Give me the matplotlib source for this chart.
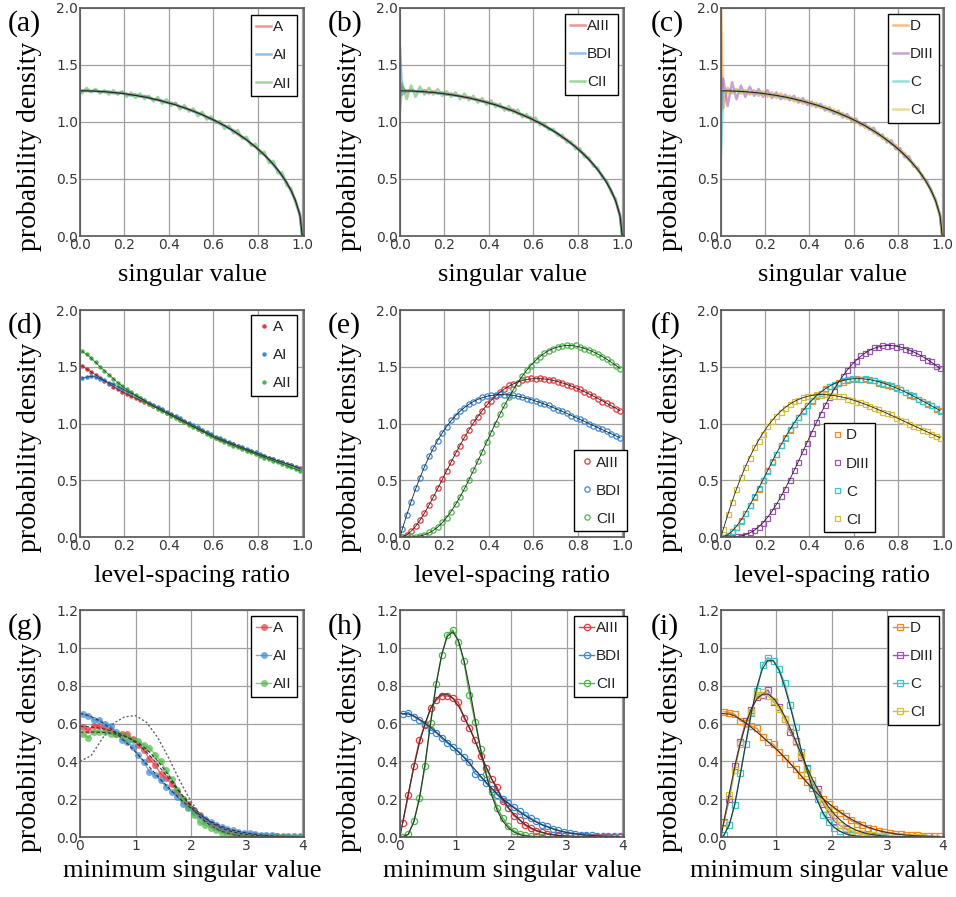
import numpy as np
import matplotlib
matplotlib.use('Agg')
import matplotlib.pyplot as plt

plt.rcParams['font.family'] = ['DejaVu Sans']
SERIF = 'Liberation Serif'
SANS_LEG = 'Liberation Sans'

# ---------------- colours ----------------
RED = '#e8383f'; BLUE = '#3b8ad8'; GREEN = '#4db84a'
ORANGE = '#f5891f'; PURPLE = '#9b56b3'; CYAN = '#3dc4c8'; YELLOW = '#d6be3e'
DARK = '#222222'

# ---------------- row 1 : singular value density ----------------
x_sv = np.concatenate([[0.0], np.linspace(0.01, 0.99, 50), [1.0]])
SV_th = [1.273, 1.273, 1.273, 1.272, 1.270, 1.268, 1.266, 1.262, 1.259, 1.255, 1.250, 1.245, 1.239,
         1.233, 1.226, 1.219, 1.211, 1.202, 1.193, 1.183, 1.172, 1.161, 1.150, 1.137, 1.124, 1.110,
         1.095, 1.080, 1.063, 1.046, 1.028, 1.009, 0.989, 0.968, 0.945, 0.922, 0.897, 0.870, 0.842,
         0.812, 0.781, 0.747, 0.710, 0.671, 0.628, 0.581, 0.528, 0.468, 0.398, 0.310, 0.180, 0.0]
sv_A = [1.27, 1.28, 1.27, 1.27, 1.28, 1.26, 1.27, 1.26, 1.26, 1.25, 1.26, 1.24, 1.24, 1.24, 1.22, 1.23,
        1.21, 1.20, 1.20, 1.18, 1.17, 1.17, 1.15, 1.14, 1.12, 1.11, 1.10, 1.08, 1.07, 1.04, 1.03, 1.01,
        0.99, 0.97, 0.95, 0.92, 0.89, 0.87, 0.84, 0.81, 0.78, 0.75, 0.71, 0.67, 0.63, 0.58, 0.53, 0.47,
        0.40, 0.31, 0.18, 0.0]
sv_AI = [1.27, 1.27, 1.28, 1.27, 1.27, 1.27, 1.26, 1.27, 1.25, 1.26, 1.25, 1.25, 1.23, 1.24, 1.23, 1.22,
         1.22, 1.20, 1.19, 1.19, 1.17, 1.16, 1.16, 1.13, 1.13, 1.11, 1.09, 1.08, 1.06, 1.05, 1.02, 1.01,
         0.98, 0.97, 0.94, 0.93, 0.90, 0.87, 0.85, 0.81, 0.78, 0.74, 0.71, 0.67, 0.62, 0.58, 0.52, 0.47,
         0.39, 0.31, 0.17, 0.0]
sv_AII = [1.27, 1.25, 1.30, 1.26, 1.29, 1.25, 1.28, 1.24, 1.28, 1.24, 1.27, 1.22, 1.26, 1.21, 1.25, 1.20,
          1.23, 1.18, 1.22, 1.16, 1.20, 1.14, 1.17, 1.11, 1.15, 1.09, 1.12, 1.05, 1.09, 1.02, 1.05, 0.99,
          1.01, 0.94, 0.97, 0.90, 0.93, 0.85, 0.87, 0.79, 0.81, 0.72, 0.74, 0.64, 0.66, 0.55, 0.56, 0.44,
          0.42, 0.29, 0.20, 0.0]
sv_AIII = [1.22, 1.31, 1.26, 1.28, 1.27, 1.26, 1.28, 1.25, 1.27, 1.25, 1.26, 1.24, 1.25, 1.23, 1.23, 1.21,
           1.22, 1.20, 1.20, 1.18, 1.18, 1.16, 1.16, 1.13, 1.13, 1.10, 1.11, 1.07, 1.07, 1.04, 1.04, 1.00,
           1.00, 0.96, 0.95, 0.92, 0.90, 0.86, 0.85, 0.81, 0.79, 0.74, 0.72, 0.67, 0.63, 0.58, 0.53, 0.47,
           0.40, 0.31, 0.18, 0.0]
sv_BDI = [1.65, 1.24, 1.28, 1.27, 1.27, 1.27, 1.26, 1.26, 1.26, 1.25, 1.25, 1.24, 1.24, 1.23, 1.23, 1.22,
          1.21, 1.20, 1.19, 1.18, 1.17, 1.16, 1.15, 1.14, 1.12, 1.11, 1.10, 1.08, 1.06, 1.05, 1.03, 1.01,
          0.99, 0.97, 0.94, 0.92, 0.90, 0.87, 0.84, 0.81, 0.78, 0.75, 0.71, 0.67, 0.63, 0.58, 0.53, 0.47,
          0.40, 0.31, 0.18, 0.0]
sv_CII = [1.10, 1.34, 1.20, 1.32, 1.22, 1.31, 1.24, 1.30, 1.24, 1.29, 1.23, 1.27, 1.22, 1.26, 1.20, 1.25,
          1.19, 1.23, 1.17, 1.21, 1.15, 1.19, 1.13, 1.16, 1.10, 1.14, 1.08, 1.11, 1.04, 1.07, 1.01, 1.04,
          0.97, 0.99, 0.93, 0.94, 0.88, 0.89, 0.82, 0.83, 0.76, 0.77, 0.69, 0.69, 0.61, 0.60, 0.51, 0.49,
          0.38, 0.33, 0.17, 0.0]
sv_D = [2.00, 1.12, 1.30, 1.25, 1.29, 1.25, 1.28, 1.24, 1.28, 1.23, 1.27, 1.22, 1.26, 1.21, 1.25, 1.20,
        1.23, 1.18, 1.21, 1.16, 1.19, 1.14, 1.17, 1.12, 1.14, 1.09, 1.11, 1.06, 1.08, 1.03, 1.04, 0.99,
        1.00, 0.95, 0.96, 0.90, 0.91, 0.85, 0.86, 0.80, 0.80, 0.73, 0.73, 0.66, 0.64, 0.57, 0.54, 0.46,
        0.41, 0.30, 0.19, 0.0]
sv_DIII = [1.10, 1.38, 1.14, 1.35, 1.20, 1.32, 1.22, 1.31, 1.23, 1.29, 1.22, 1.28, 1.21, 1.26, 1.20, 1.24,
           1.19, 1.23, 1.17, 1.21, 1.15, 1.18, 1.13, 1.16, 1.10, 1.13, 1.07, 1.10, 1.04, 1.07, 1.01, 1.03,
           0.97, 0.99, 0.93, 0.95, 0.88, 0.89, 0.82, 0.84, 0.76, 0.77, 0.69, 0.70, 0.61, 0.60, 0.51, 0.49,
           0.39, 0.32, 0.18, 0.0]
sv_C = [0.72, 1.27, 1.28, 1.27, 1.27, 1.27, 1.26, 1.26, 1.26, 1.25, 1.25, 1.24, 1.24, 1.23, 1.22, 1.22,
        1.21, 1.20, 1.19, 1.18, 1.17, 1.16, 1.15, 1.14, 1.12, 1.11, 1.09, 1.08, 1.06, 1.05, 1.03, 1.01,
        0.99, 0.97, 0.94, 0.92, 0.90, 0.87, 0.84, 0.81, 0.78, 0.75, 0.71, 0.67, 0.63, 0.58, 0.53, 0.47,
        0.40, 0.31, 0.18, 0.0]
sv_CI = [1.27, 1.28, 1.26, 1.27, 1.28, 1.26, 1.27, 1.25, 1.26, 1.26, 1.24, 1.25, 1.23, 1.24, 1.22, 1.23,
         1.20, 1.21, 1.19, 1.19, 1.17, 1.17, 1.14, 1.14, 1.12, 1.12, 1.09, 1.09, 1.06, 1.05, 1.02, 1.02,
         0.98, 0.97, 0.94, 0.93, 0.89, 0.88, 0.84, 0.82, 0.77, 0.75, 0.71, 0.68, 0.62, 0.59, 0.52, 0.47,
         0.39, 0.32, 0.17, 0.0]

# ---------------- row 2 : level-spacing ratio ----------------
x_r = np.linspace(0.01, 0.99, 50)
x_rt = np.concatenate([[0.0], x_r])
r_A = [1.505, 1.48, 1.455, 1.43, 1.405, 1.375, 1.35, 1.325, 1.30, 1.28, 1.26, 1.24, 1.225, 1.205, 1.19,
       1.17, 1.15, 1.135, 1.115, 1.095, 1.075, 1.055, 1.035, 1.015, 0.995, 0.975, 0.955, 0.935, 0.915,
       0.895, 0.875, 0.86, 0.845, 0.83, 0.815, 0.80, 0.785, 0.77, 0.755, 0.74, 0.725, 0.71, 0.70, 0.685,
       0.67, 0.66, 0.645, 0.635, 0.62, 0.605]
r_AI = [1.40, 1.41, 1.415, 1.41, 1.395, 1.38, 1.36, 1.345, 1.325, 1.305, 1.285, 1.265, 1.245, 1.225, 1.205,
        1.185, 1.165, 1.145, 1.125, 1.105, 1.085, 1.065, 1.045, 1.025, 1.005, 0.985, 0.965, 0.945, 0.925,
        0.905, 0.885, 0.868, 0.852, 0.836, 0.82, 0.805, 0.79, 0.775, 0.76, 0.745, 0.73, 0.715, 0.70, 0.686,
        0.672, 0.658, 0.645, 0.632, 0.618, 0.60]
r_AII = [1.635, 1.61, 1.575, 1.54, 1.50, 1.465, 1.43, 1.395, 1.36, 1.33, 1.30, 1.275, 1.25, 1.225, 1.20,
         1.175, 1.155, 1.13, 1.11, 1.09, 1.07, 1.05, 1.03, 1.01, 0.99, 0.97, 0.95, 0.93, 0.91, 0.89, 0.87,
         0.853, 0.837, 0.821, 0.806, 0.79, 0.775, 0.76, 0.745, 0.73, 0.715, 0.70, 0.686, 0.672, 0.658,
         0.643, 0.628, 0.613, 0.598, 0.583]
GOE_th = [0.0, 0.067, 0.193, 0.312, 0.422, 0.524, 0.618, 0.704, 0.782, 0.853, 0.917, 0.974, 1.024, 1.069,
          1.108, 1.141, 1.169, 1.193, 1.212, 1.227, 1.239, 1.247, 1.252, 1.255, 1.254, 1.252, 1.247, 1.240,
          1.232, 1.222, 1.211, 1.198, 1.185, 1.171, 1.156, 1.140, 1.123, 1.107, 1.090, 1.072, 1.054, 1.036,
          1.018, 1.000, 0.982, 0.964, 0.946, 0.928, 0.910, 0.892, 0.875]
GUE_th = [0.0, 0.002, 0.019, 0.050, 0.094, 0.148, 0.210, 0.279, 0.352, 0.428, 0.505, 0.583, 0.660, 0.735,
          0.807, 0.877, 0.942, 1.004, 1.060, 1.113, 1.160, 1.203, 1.241, 1.275, 1.304, 1.329, 1.349, 1.365,
          1.378, 1.387, 1.393, 1.395, 1.395, 1.392, 1.387, 1.379, 1.370, 1.358, 1.345, 1.331, 1.315, 1.298,
          1.280, 1.261, 1.241, 1.221, 1.200, 1.179, 1.157, 1.136, 1.114]
GSE_th = [0.0, 0.000, 0.000, 0.001, 0.004, 0.010, 0.020, 0.036, 0.058, 0.088, 0.126, 0.172, 0.225, 0.286,
          0.353, 0.426, 0.503, 0.584, 0.667, 0.752, 0.837, 0.921, 1.003, 1.083, 1.158, 1.230, 1.298, 1.360,
          1.417, 1.469, 1.515, 1.555, 1.590, 1.619, 1.643, 1.661, 1.674, 1.683, 1.688, 1.687, 1.682, 1.674,
          1.662, 1.648, 1.631, 1.612, 1.590, 1.567, 1.541, 1.514, 1.485]
r_AIII = [0.00, 0.02, 0.05, 0.10, 0.15, 0.21, 0.28, 0.35, 0.43, 0.51, 0.58, 0.66, 0.74, 0.80, 0.88, 0.94,
          1.01, 1.06, 1.11, 1.17, 1.20, 1.24, 1.28, 1.30, 1.34, 1.35, 1.36, 1.38, 1.39, 1.40, 1.39, 1.40,
          1.39, 1.38, 1.38, 1.37, 1.36, 1.34, 1.33, 1.31, 1.30, 1.28, 1.26, 1.24, 1.22, 1.19, 1.18, 1.16,
          1.13, 1.11]
r_BDI = [0.07, 0.19, 0.31, 0.43, 0.52, 0.62, 0.71, 0.78, 0.85, 0.92, 0.97, 1.03, 1.07, 1.11, 1.14, 1.17,
         1.19, 1.21, 1.23, 1.24, 1.25, 1.25, 1.26, 1.25, 1.25, 1.25, 1.24, 1.23, 1.22, 1.21, 1.20, 1.18,
         1.17, 1.16, 1.14, 1.12, 1.11, 1.09, 1.07, 1.05, 1.04, 1.02, 1.00, 0.98, 0.96, 0.95, 0.93, 0.91,
         0.89, 0.87]
r_CII = [0.00, 0.00, 0.00, 0.00, 0.01, 0.02, 0.04, 0.06, 0.09, 0.13, 0.17, 0.22, 0.29, 0.35, 0.43, 0.50,
         0.59, 0.67, 0.75, 0.84, 0.92, 1.00, 1.08, 1.16, 1.23, 1.30, 1.36, 1.42, 1.47, 1.51, 1.56, 1.59,
         1.62, 1.64, 1.66, 1.67, 1.68, 1.69, 1.68, 1.69, 1.67, 1.66, 1.65, 1.63, 1.61, 1.59, 1.57, 1.54,
         1.51, 1.48]
r_D = [0.00, 0.02, 0.05, 0.09, 0.15, 0.21, 0.28, 0.35, 0.42, 0.50, 0.59, 0.66, 0.73, 0.81, 0.87, 0.95,
       1.00, 1.06, 1.12, 1.16, 1.20, 1.25, 1.27, 1.31, 1.33, 1.34, 1.37, 1.37, 1.39, 1.39, 1.40, 1.39,
       1.39, 1.38, 1.38, 1.36, 1.35, 1.34, 1.34, 1.31, 1.30, 1.28, 1.25, 1.25, 1.22, 1.20, 1.18, 1.16,
       1.13, 1.12]
r_DIII = [0.00, 0.00, 0.00, 0.01, 0.01, 0.02, 0.04, 0.06, 0.09, 0.12, 0.17, 0.23, 0.28, 0.36, 0.42, 0.50,
          0.59, 0.66, 0.76, 0.83, 0.92, 1.01, 1.08, 1.16, 1.23, 1.29, 1.36, 1.42, 1.47, 1.52, 1.55, 1.60,
          1.62, 1.64, 1.67, 1.67, 1.69, 1.68, 1.69, 1.67, 1.68, 1.66, 1.65, 1.63, 1.62, 1.59, 1.56, 1.55,
          1.51, 1.49]
r_C = [0.00, 0.02, 0.05, 0.09, 0.14, 0.21, 0.28, 0.36, 0.43, 0.50, 0.58, 0.67, 0.73, 0.81, 0.88, 0.94,
       1.00, 1.06, 1.11, 1.16, 1.21, 1.24, 1.27, 1.30, 1.33, 1.35, 1.36, 1.38, 1.38, 1.40, 1.39, 1.39,
       1.40, 1.39, 1.38, 1.37, 1.36, 1.35, 1.33, 1.32, 1.30, 1.28, 1.26, 1.24, 1.22, 1.20, 1.17, 1.16,
       1.14, 1.11]
r_CI = [0.07, 0.20, 0.31, 0.42, 0.53, 0.62, 0.70, 0.79, 0.85, 0.91, 0.98, 1.02, 1.07, 1.10, 1.14, 1.17,
        1.20, 1.21, 1.23, 1.24, 1.24, 1.26, 1.25, 1.26, 1.25, 1.24, 1.24, 1.24, 1.22, 1.21, 1.19, 1.19,
        1.17, 1.15, 1.14, 1.13, 1.10, 1.09, 1.08, 1.05, 1.03, 1.02, 1.00, 0.98, 0.97, 0.94, 0.93, 0.91,
        0.89, 0.87]

# ---------------- row 3 : minimum singular value ----------------
x_ms = np.linspace(0.05, 3.95, 40)
x_mst = np.concatenate([[0.0], x_ms])
m_A = [0.582, 0.565, 0.588, 0.586, 0.574, 0.560, 0.547, 0.547, 0.542, 0.520, 0.485, 0.459, 0.410, 0.380,
       0.335, 0.310, 0.280, 0.238, 0.203, 0.176, 0.141, 0.115, 0.088, 0.071, 0.056, 0.044, 0.034, 0.026,
       0.019, 0.016, 0.012, 0.009, 0.007, 0.005, 0.004, 0.003, 0.002, 0.002, 0.002, 0.001]
m_AI = [0.650, 0.640, 0.618, 0.618, 0.600, 0.588, 0.556, 0.512, 0.503, 0.476, 0.432, 0.397, 0.344, 0.327,
        0.300, 0.265, 0.238, 0.212, 0.176, 0.155, 0.132, 0.111, 0.094, 0.079, 0.065, 0.053, 0.044, 0.035,
        0.028, 0.023, 0.019, 0.016, 0.012, 0.011, 0.009, 0.007, 0.005, 0.005, 0.004, 0.003]
m_AII = [0.547, 0.524, 0.556, 0.556, 0.556, 0.547, 0.542, 0.538, 0.530, 0.515, 0.508, 0.485, 0.471, 0.436,
         0.400, 0.353, 0.305, 0.247, 0.203, 0.159, 0.118, 0.079, 0.065, 0.049, 0.035, 0.023, 0.016, 0.011,
         0.007, 0.005, 0.004, 0.002, 0.002, 0.001, 0.001, 0.001, 0.001, 0.0, 0.0, 0.0]
A_th = [0.585, 0.585, 0.583, 0.580, 0.576, 0.570, 0.562, 0.553, 0.542, 0.528, 0.510, 0.488, 0.462, 0.432,
        0.399, 0.363, 0.326, 0.289, 0.252, 0.217, 0.184, 0.153, 0.125, 0.100, 0.079, 0.061, 0.047, 0.036,
        0.027, 0.020, 0.015, 0.011, 0.008, 0.006, 0.004, 0.003, 0.002, 0.002, 0.001, 0.001, 0.001]
AI_th = [0.652, 0.650, 0.643, 0.630, 0.614, 0.595, 0.573, 0.549, 0.522, 0.494, 0.464, 0.433, 0.401, 0.369,
         0.337, 0.305, 0.274, 0.244, 0.215, 0.188, 0.163, 0.140, 0.119, 0.100, 0.083, 0.069, 0.056, 0.045,
         0.036, 0.029, 0.023, 0.018, 0.014, 0.011, 0.008, 0.006, 0.005, 0.004, 0.003, 0.002, 0.002]
AII_th = [0.555, 0.555, 0.555, 0.555, 0.554, 0.552, 0.549, 0.544, 0.537, 0.527, 0.514, 0.497, 0.475, 0.449,
          0.418, 0.383, 0.344, 0.302, 0.259, 0.217, 0.177, 0.141, 0.109, 0.082, 0.060, 0.043, 0.030, 0.020,
          0.013, 0.008, 0.005, 0.003, 0.002, 0.001, 0.001, 0.0, 0.0, 0.0, 0.0, 0.0, 0.0]
ref_x = [0.0, 0.2, 0.4, 0.6, 0.8, 1.0, 1.2, 1.4, 1.6, 1.8, 2.0, 2.2, 2.4, 2.6, 2.8, 3.0, 3.2, 3.4]
ref_y = [0.40, 0.43, 0.52, 0.60, 0.635, 0.642, 0.605, 0.525, 0.415, 0.295, 0.186, 0.103, 0.053, 0.026,
         0.011, 0.004, 0.001, 0.0]

m_AIII = [0.076, 0.222, 0.376, 0.512, 0.592, 0.680, 0.722, 0.748, 0.746, 0.735, 0.712, 0.630, 0.578, 0.512,
          0.430, 0.365, 0.305, 0.262, 0.188, 0.152, 0.112, 0.092, 0.062, 0.046, 0.032, 0.025, 0.016, 0.012,
          0.009, 0.006, 0.005, 0.004, 0.003, 0.003, 0.002, 0.002, 0.002, 0.001, 0.001, 0.001]
m_BDI = [0.648, 0.658, 0.636, 0.618, 0.600, 0.566, 0.552, 0.521, 0.497, 0.476, 0.453, 0.424, 0.397, 0.335,
         0.318, 0.284, 0.256, 0.222, 0.200, 0.180, 0.159, 0.136, 0.118, 0.100, 0.083, 0.066, 0.056, 0.044,
         0.035, 0.027, 0.022, 0.017, 0.013, 0.011, 0.008, 0.007, 0.005, 0.005, 0.004, 0.003]
m_CII = [0.001, 0.014, 0.085, 0.205, 0.375, 0.605, 0.810, 0.960, 1.070, 1.095, 1.032, 0.928, 0.752, 0.610,
         0.465, 0.335, 0.238, 0.155, 0.100, 0.058, 0.034, 0.017, 0.009, 0.005, 0.003, 0.002]
AIII_th = [0.0, 0.078, 0.230, 0.372, 0.497, 0.600, 0.679, 0.730, 0.755, 0.755, 0.733, 0.693, 0.640, 0.576,
           0.508, 0.438, 0.371, 0.307, 0.250, 0.200, 0.156, 0.120, 0.091, 0.067, 0.049, 0.035, 0.025, 0.017,
           0.012, 0.008, 0.005, 0.003, 0.002, 0.001, 0.001, 0.0, 0.0, 0.0, 0.0, 0.0, 0.0]
BDI_th = [0.653, 0.652, 0.650, 0.640, 0.622, 0.602, 0.579, 0.555, 0.529, 0.503, 0.477, 0.450, 0.420, 0.389,
          0.356, 0.322, 0.289, 0.257, 0.227, 0.200, 0.177, 0.154, 0.133, 0.113, 0.095, 0.079, 0.065, 0.053,
          0.043, 0.034, 0.027, 0.021, 0.017, 0.013, 0.010, 0.008, 0.006, 0.005, 0.004, 0.003, 0.002]
CII_th = [0.0, 0.001, 0.015, 0.080, 0.205, 0.385, 0.600, 0.805, 0.965, 1.060, 1.085, 1.040, 0.935, 0.790,
          0.625, 0.465, 0.330, 0.220, 0.140, 0.084, 0.048, 0.026, 0.013, 0.006, 0.003, 0.001,
          0.0, 0.0, 0.0, 0.0, 0.0, 0.0, 0.0, 0.0, 0.0, 0.0, 0.0, 0.0, 0.0, 0.0, 0.0]

m_D = [0.662, 0.658, 0.648, 0.614, 0.605, 0.586, 0.574, 0.530, 0.503, 0.489, 0.450, 0.420, 0.388, 0.362,
       0.326, 0.291, 0.261, 0.229, 0.203, 0.176, 0.150, 0.129, 0.109, 0.088, 0.071, 0.062, 0.049, 0.041,
       0.034, 0.026, 0.023, 0.018, 0.016, 0.012, 0.009, 0.009, 0.007, 0.005, 0.004, 0.004]
m_DIII = [0.079, 0.200, 0.374, 0.503, 0.612, 0.670, 0.741, 0.750, 0.777, 0.715, 0.688, 0.626, 0.556, 0.506,
          0.424, 0.365, 0.282, 0.256, 0.176, 0.124, 0.083, 0.062, 0.044, 0.030, 0.021, 0.016, 0.011, 0.007,
          0.005, 0.004, 0.003, 0.002, 0.001, 0.001]
m_C = [0.009, 0.062, 0.171, 0.339, 0.494, 0.653, 0.773, 0.909, 0.948, 0.932, 0.888, 0.812, 0.700, 0.582,
       0.450, 0.362, 0.274, 0.200, 0.115, 0.079, 0.049, 0.030, 0.018, 0.009, 0.005, 0.004, 0.002, 0.001,
       0.001, 0.0]
m_CI = [0.074, 0.220, 0.353, 0.494, 0.600, 0.662, 0.750, 0.764, 0.745, 0.718, 0.679, 0.623, 0.574, 0.503,
        0.432, 0.340, 0.300, 0.238, 0.185, 0.141, 0.102, 0.062, 0.048, 0.034, 0.023, 0.016, 0.012, 0.009,
        0.007, 0.005, 0.004, 0.003, 0.002, 0.002, 0.001, 0.001, 0.001]
D_th = [0.653, 0.652, 0.650, 0.640, 0.622, 0.602, 0.579, 0.555, 0.529, 0.503, 0.477, 0.450, 0.420, 0.389,
        0.356, 0.322, 0.289, 0.257, 0.227, 0.200, 0.177, 0.154, 0.133, 0.113, 0.095, 0.079, 0.065, 0.053,
        0.043, 0.034, 0.027, 0.021, 0.017, 0.013, 0.010, 0.008, 0.006, 0.005, 0.004, 0.003, 0.002]
C_th = [0.0, 0.008, 0.065, 0.175, 0.330, 0.500, 0.660, 0.795, 0.890, 0.935, 0.930, 0.880, 0.795, 0.690,
        0.575, 0.460, 0.355, 0.262, 0.185, 0.125, 0.081, 0.050, 0.030, 0.017, 0.009, 0.005, 0.002, 0.001,
        0.0, 0.0, 0.0, 0.0, 0.0, 0.0, 0.0, 0.0, 0.0, 0.0, 0.0, 0.0, 0.0]

# ---------------- figure layout ----------------
W, H = 956, 897
fig = plt.figure(figsize=(W / 100, H / 100), dpi=100)
cols = [(80, 304), (400, 624), (721, 944)]
rows = [(8, 236), (310, 537), (610, 837)]


def make_ax(r, c):
    x0, x1 = cols[c]
    y0, y1 = rows[r]
    return fig.add_axes([x0 / W, 1 - y1 / H, (x1 - x0) / W, (y1 - y0) / H])


def style(ax, row, xlabel, xlab_x=0.5):
    if row < 2:
        ax.set_xlim(0, 1.008); ax.set_ylim(0, 2.0)
        xt = [0.0, 0.2, 0.4, 0.6, 0.8, 1.0]; yt = [0.0, 0.5, 1.0, 1.5, 2.0]
        ax.set_xticks(xt); ax.set_xticklabels(['%.1f' % v for v in xt])
        xly = -0.125 if row == 0 else -0.122
    else:
        ax.set_xlim(0, 4.03); ax.set_ylim(0, 1.2)
        xt = [0, 1, 2, 3, 4]; yt = [0.0, 0.2, 0.4, 0.6, 0.8, 1.0, 1.2]
        ax.set_xticks(xt); ax.set_xticklabels(['%d' % v for v in xt])
        xly = -0.10
    ax.set_yticks(yt); ax.set_yticklabels(['%.1f' % v for v in yt])
    ax.grid(True, color='#a0a0a0', lw=0.9)
    ax.set_axisbelow(True)
    ax.tick_params(length=0, pad=1.2, labelsize=10, labelcolor='#383838')
    for s in ax.spines.values():
        s.set_color('#555555'); s.set_linewidth(1.2)
    ax.set_xlabel(xlabel, fontsize=19, family=SERIF, color='black')
    ax.xaxis.set_label_coords(xlab_x, xly)
    ax.set_ylabel('probability density', fontsize=20, family=SERIF, color='black')
    ax.yaxis.set_label_coords(-0.17, 0.395)


def legend(ax, handles, labels, loc, anchor):
    leg = ax.legend(handles, labels, loc=loc, bbox_to_anchor=anchor, borderaxespad=0,
                    frameon=True, fancybox=False, edgecolor='black', framealpha=1,
                    prop={'family': SANS_LEG, 'size': 11}, handlelength=0.95,
                    handletextpad=0.15, labelspacing=0.92, borderpad=0.35, numpoints=1)
    leg.get_frame().set_linewidth(1.0)
    for t in leg.get_texts():
        t.set_color('#222222')


def plot_xy(ax, x, y, *args, **kw):
    m = min(len(x), len(y))
    return ax.plot(x[:m], y[:m], *args, **kw)[0]


# ---------- row 1 ----------
row1 = [
    [('A', sv_A, RED), ('AI', sv_AI, BLUE), ('AII', sv_AII, GREEN)],
    [('AIII', sv_AIII, RED), ('BDI', sv_BDI, BLUE), ('CII', sv_CII, GREEN)],
    [('D', sv_D, ORANGE), ('DIII', sv_DIII, PURPLE), ('C', sv_C, CYAN), ('CI', sv_CI, YELLOW)],
]
anchors1 = [(0.969, 0.969), (0.973, 0.974), (0.978, 0.974)]
for c in range(3):
    ax = make_ax(0, c)
    hs = []
    for lab, y, col in row1[c]:
        hs.append(plot_xy(ax, x_sv, y, color=col, lw=1.8, alpha=0.55))
    plot_xy(ax, x_sv, SV_th, color=DARK, lw=0.8)
    style(ax, 0, 'singular value')
    legend(ax, hs, [t[0] for t in row1[c]], 'upper right', anchors1[c])

# ---------- row 2 ----------
ax = make_ax(1, 0)
hs = []
for lab, y, col in [('A', r_A, RED), ('AI', r_AI, BLUE), ('AII', r_AII, GREEN)]:
    hs.append(plot_xy(ax, x_r, y, 'o', color=col, ms=3.2, mec='none', ls='none'))
for y in (r_A, r_AI, r_AII):
    plot_xy(ax, x_r, y, color=DARK, lw=0.5, alpha=0.8)
style(ax, 1, 'level-spacing ratio')
legend(ax, hs, ['A', 'AI', 'AII'], 'upper right', (0.969, 0.978))

ax = make_ax(1, 1)
hs = []
for y, col in [(r_AIII, RED), (r_BDI, BLUE), (r_CII, GREEN)]:
    hs.append(plot_xy(ax, x_r, y, 'o', mfc='none', mec=col, ms=3.8, mew=0.9, ls='none'))
for y in (GUE_th, GOE_th, GSE_th):
    plot_xy(ax, x_rt, y, color=DARK, lw=0.6)
style(ax, 1, 'level-spacing ratio')
legend(ax, hs, ['AIII', 'BDI', 'CII'], 'lower right', (1.013, 0.026))

ax = make_ax(1, 2)
hs = []
for y, col in [(r_D, ORANGE), (r_DIII, PURPLE), (r_C, CYAN), (r_CI, YELLOW)]:
    hs.append(plot_xy(ax, x_r, y, 's', mfc='none', mec=col, ms=3.6, mew=0.9, ls='none'))
for y in (GUE_th, GSE_th, GOE_th):
    plot_xy(ax, x_rt, y, color=DARK, lw=0.6)
style(ax, 1, 'level-spacing ratio')
legend(ax, hs, ['D', 'DIII', 'C', 'CI'], 'lower left', (0.462, 0.022))

# ---------- row 3 ----------
ax = make_ax(2, 0)
hs = []
for y, col in [(m_A, RED), (m_AI, BLUE), (m_AII, GREEN)]:
    hs.append(plot_xy(ax, x_ms, y, '-o', color=col, ms=5, lw=1.0, alpha=0.7, mec='none'))
for y in (A_th, AI_th, AII_th):
    plot_xy(ax, x_mst, y, color='#333333', lw=0.8, ls=(0, (3, 2)))
ax.plot(ref_x, ref_y, color='#666666', lw=1.0, ls=(0, (1.5, 1.5)))
style(ax, 2, 'minimum singular value')
legend(ax, hs, ['A', 'AI', 'AII'], 'upper right', (0.969, 0.974))

ax = make_ax(2, 1)
hs = []
for y, col in [(m_AIII, RED), (m_BDI, BLUE), (m_CII, GREEN)]:
    hs.append(plot_xy(ax, x_ms, y, '-o', color=col, mfc='none', mec=col, ms=4.5, mew=0.9, lw=1.0))
for y in (AIII_th, BDI_th, CII_th):
    plot_xy(ax, x_mst, y, color='#333333', lw=0.8)
style(ax, 2, 'minimum singular value')
legend(ax, hs, ['AIII', 'BDI', 'CII'], 'upper right', (1.013, 0.974))

ax = make_ax(2, 2)
hs = []
for y, col in [(m_D, ORANGE), (m_DIII, PURPLE), (m_C, CYAN), (m_CI, YELLOW)]:
    hs.append(plot_xy(ax, x_ms, y, '-s', color=col, mfc='none', mec=col, ms=4.3, mew=0.9, lw=1.0))
for y in (D_th, AIII_th, C_th):
    plot_xy(ax, x_mst, y, color='#333333', lw=0.8)
style(ax, 2, 'minimum singular value', xlab_x=0.44)
legend(ax, hs, ['D', 'DIII', 'C', 'CI'], 'upper right', (0.978, 0.974))

# ---------- panel letters ----------
letters = [('(a)', 8, 24), ('(b)', 328, 24), ('(c)', 651, 24),
           ('(d)', 8, 326), ('(e)', 328, 326), ('(f)', 651, 326),
           ('(g)', 8, 627), ('(h)', 328, 627), ('(i)', 651, 627)]
for t, px, py in letters:
    fig.text(px / W, 1 - py / H, t, ha='left', va='center', fontsize=21.5, family=SERIF)

fig.savefig('out.png', dpi=100)
